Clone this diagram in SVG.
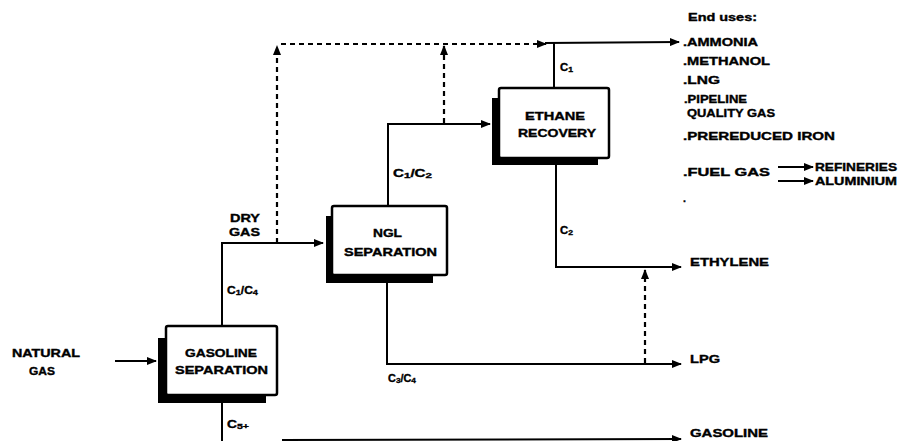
<svg xmlns="http://www.w3.org/2000/svg" width="899" height="441" viewBox="0 0 899 441">
<defs>
<marker id="ah" markerWidth="10" markerHeight="8" refX="9" refY="4" orient="auto" markerUnits="userSpaceOnUse">
<path d="M0,0 L10,4 L0,8 z" fill="#000"/>
</marker>
<style>
text{font-family:"Liberation Sans",Arial,sans-serif;font-weight:bold;font-size:10.5px;fill:#000;stroke:#000;stroke-width:0.35}
.sub{font-size:8px}
.ln{fill:none;stroke:#000;stroke-width:2}
.dash{fill:none;stroke:#000;stroke-width:2.2;stroke-dasharray:5 4}
.box{fill:#fff;stroke:#000;stroke-width:2.5}
.shadow{fill:#000}
</style>
</defs>
<rect width="899" height="441" fill="#fff"/>

<g id="connectors">
<line class="ln" x1="115" y1="361" x2="156" y2="361" marker-end="url(#ah)"/>
<polyline class="ln" points="222,326 222,243 323,243" marker-end="url(#ah)"/>
<line class="dash" x1="277" y1="243" x2="277" y2="46" marker-end="url(#ah)"/>
<line class="dash" x1="281" y1="44" x2="546" y2="44" marker-end="url(#ah)"/>
<polyline class="ln" points="388,206 388,124 490,124" marker-end="url(#ah)"/>
<line class="dash" x1="444" y1="123" x2="444" y2="46" marker-end="url(#ah)"/>
<line class="ln" x1="554" y1="88" x2="554" y2="43"/>
<line class="ln" x1="545" y1="43" x2="679" y2="42" marker-end="url(#ah)"/>
<polyline class="ln" points="556,165 556,267 681,267" marker-end="url(#ah)"/>
<polyline class="ln" points="387,283 387,364 681,364" marker-end="url(#ah)"/>
<line class="dash" x1="645" y1="363" x2="645" y2="270" marker-end="url(#ah)"/>
<line class="ln" x1="222" y1="403" x2="222" y2="441"/>
<line class="ln" x1="282" y1="440" x2="681" y2="439" marker-end="url(#ah)"/>
<line class="ln" x1="778" y1="167" x2="813" y2="167" marker-end="url(#ah)"/>
<line class="ln" x1="778" y1="181" x2="813" y2="181" marker-end="url(#ah)"/>
</g>

<g id="natural-gas">
<text x="12" y="357" textLength="68" lengthAdjust="spacingAndGlyphs">NATURAL</text>
<text x="29" y="375" textLength="26" lengthAdjust="spacingAndGlyphs">GAS</text>
</g>

<g id="gasoline-separation">
<rect class="shadow" x="158" y="338" width="108" height="65"/>
<rect class="box" x="166" y="326" width="111" height="69" rx="2"/>
<text x="185" y="357" textLength="72" lengthAdjust="spacingAndGlyphs">GASOLINE</text>
<text x="175" y="374" textLength="93" lengthAdjust="spacingAndGlyphs">SEPARATION</text>
</g>

<g id="ngl-separation">
<rect class="shadow" x="326" y="216" width="107" height="67"/>
<rect class="box" x="332" y="206" width="115" height="69" rx="2"/>
<text x="373" y="237" textLength="29" lengthAdjust="spacingAndGlyphs">NGL</text>
<text x="344" y="256" textLength="93" lengthAdjust="spacingAndGlyphs">SEPARATION</text>
</g>

<g id="ethane-recovery">
<rect class="shadow" x="492" y="98" width="106" height="67"/>
<rect class="box" x="499" y="88" width="110" height="70" rx="2"/>
<text x="525" y="120" textLength="60" lengthAdjust="spacingAndGlyphs">ETHANE</text>
<text x="518" y="137" textLength="78" lengthAdjust="spacingAndGlyphs">RECOVERY</text>
</g>

<g id="labels">
<text x="230" y="222" textLength="30" lengthAdjust="spacingAndGlyphs">DRY</text>
<text x="229" y="236" textLength="31" lengthAdjust="spacingAndGlyphs">GAS</text>
<text x="227" y="294" textLength="31" lengthAdjust="spacingAndGlyphs">C<tspan class="sub" dy="1">1</tspan><tspan dy="-1">/C</tspan><tspan class="sub" dy="1">4</tspan></text>
<text x="227" y="428" textLength="22" lengthAdjust="spacingAndGlyphs">C<tspan class="sub" dy="1">5+</tspan></text>
<text x="393" y="177" textLength="39" lengthAdjust="spacingAndGlyphs">C<tspan class="sub" dy="1">1</tspan><tspan dy="-1">/C</tspan><tspan class="sub" dy="1">2</tspan></text>
<text x="560" y="71" textLength="13" lengthAdjust="spacingAndGlyphs">C<tspan class="sub" dy="1">1</tspan></text>
<text x="560" y="234" textLength="13" lengthAdjust="spacingAndGlyphs">C<tspan class="sub" dy="1">2</tspan></text>
<text x="388" y="382" textLength="28" lengthAdjust="spacingAndGlyphs">C<tspan class="sub" dy="1">3</tspan><tspan dy="-1">/C</tspan><tspan class="sub" dy="1">4</tspan></text>
</g>

<g id="products">
<text x="690" y="266" textLength="79" lengthAdjust="spacingAndGlyphs">ETHYLENE</text>
<text x="690" y="363" textLength="30" lengthAdjust="spacingAndGlyphs">LPG</text>
<text x="690" y="437" textLength="78" lengthAdjust="spacingAndGlyphs">GASOLINE</text>
</g>

<g id="end-uses">
<text x="688" y="21" textLength="69" lengthAdjust="spacingAndGlyphs">End uses:</text>
<text x="683" y="46" textLength="75" lengthAdjust="spacingAndGlyphs">.AMMONIA</text>
<text x="683" y="65" textLength="87" lengthAdjust="spacingAndGlyphs">.METHANOL</text>
<text x="683" y="84" textLength="37" lengthAdjust="spacingAndGlyphs">.LNG</text>
<text x="684" y="103" textLength="63" lengthAdjust="spacingAndGlyphs">.PIPELINE</text>
<text x="687" y="117" textLength="88" lengthAdjust="spacingAndGlyphs">QUALITY GAS</text>
<text x="683" y="140" textLength="152" lengthAdjust="spacingAndGlyphs">.PREREDUCED IRON</text>
<text x="683" y="176" textLength="87" lengthAdjust="spacingAndGlyphs">.FUEL GAS</text>
<text x="815" y="171" textLength="82" lengthAdjust="spacingAndGlyphs">REFINERIES</text>
<text x="815" y="185" textLength="82" lengthAdjust="spacingAndGlyphs">ALUMINIUM</text>
<text x="683" y="202">.</text>
</g>
</svg>
